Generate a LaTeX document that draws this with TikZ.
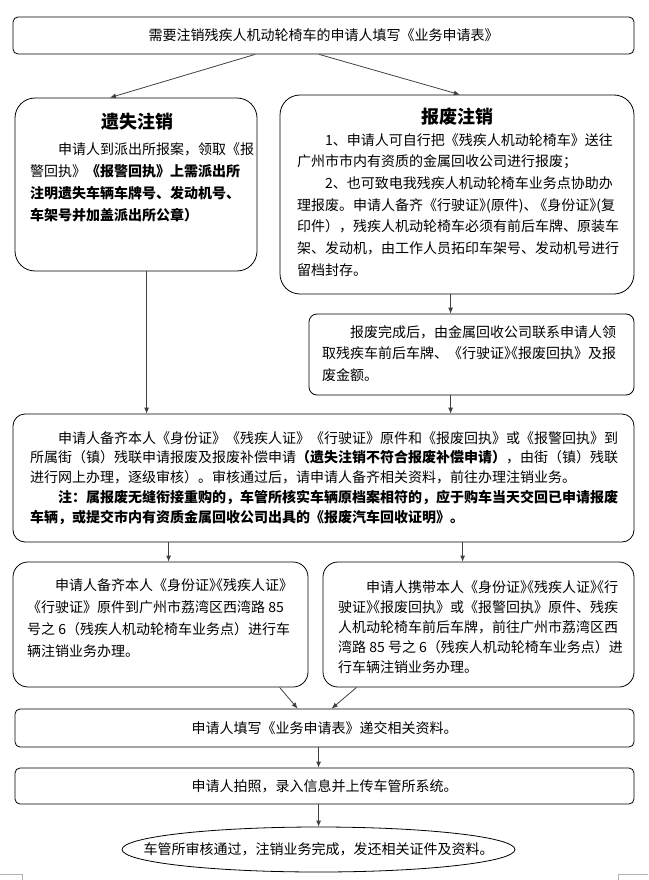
\documentclass[tikz,border=0pt]{standalone}
\usepackage{fontspec}
\setmainfont{Noto Sans CJK SC}
\usetikzlibrary{arrows.meta,shapes.geometric,calc}
\newcommand{\jn}{\kern-1em}
\begin{document}
\begin{tikzpicture}[x=1pt,y=-1pt,font=\fontsize{14}{22}\selectfont,
  box/.style={draw,line width=.8pt,inner sep=0pt,rounded corners=#1},
  box/.default=5pt,
  txt/.style={anchor=north west,inner sep=0pt,align=left},
  head/.style={font=\fontsize{18}{20}\selectfont\bfseries},
  arr/.style={draw=black!75,line width=.8pt,-{Latex[length=6pt,width=5pt]}}]
\useasboundingbox (0,0) rectangle (648,880);
\node[box,minimum width=621pt,minimum height=37pt] (form) at (323.5,35.5) {需要注销残疾人机动轮椅车的申请人填写《业务申请表》};
% two ways to cancel
\node[box=20pt,minimum width=242pt,minimum height=173pt] (lost) at (136,184.5) {};
\node[head] (lost-h) at (137,122) {遗失注销};
\node[txt,font=\fontsize{14}{22.3}\selectfont] (lost-t) at (30,142) {\hspace*{2em}申请人到派出所报案，领取《报\\
警回执》\textbf{《报警回执》上需派出所}\\
\textbf{注明遗失车辆车牌号、发动机号、}\\
\textbf{车架号并加盖派出所公章）}};
\node[box=20pt,minimum width=354pt,minimum height=199pt] (waste) at (457,194.5) {};
\node[head] (waste-h) at (457,117) {报废注销};
\node[txt,font=\fontsize{14}{21.7}\selectfont] (waste-t) at (297,133) {\hspace*{2em}1、申请人可自行把《残疾人机动轮椅车》送往\\
广州市市内有资质的金属回收公司进行报废；\\
\hspace*{2em}2、也可致电我残疾人机动轮椅车业务点协助办\\
理报废。申请人备齐《行驶证》\kern-.5em(原件)、\kern-.3em《身份证》\kern-.5em(复\\
印件），残疾人机动轮椅车必须有前后车牌、原装车\\
架、发动机，由工作人员拓印车架号、发动机号进行\\
留档封存。};
\node[box=8pt,minimum width=325pt,minimum height=81pt] (done) at (471.5,354.5) {};
\node[txt,font=\fontsize{14}{21.5}\selectfont] (done-t) at (322,325) {\hspace*{2em}报废完成后，由金属回收公司联系申请人领\\
取残疾车前后车牌、《行驶证》\jn《报废回执》及报\\
废金额。};
% common steps
\node[box=12pt,minimum width=621pt,minimum height=128pt] (apply) at (323.5,478) {};
\node[txt,font=\fontsize{14}{19.8}\selectfont] (apply-t) at (30,431) {\hspace*{2em}申请人备齐本人《身份证》《残疾人证》《行驶证》原件和《报废回执》或《报警回执》到\\
所属街（镇）残联申请报废及报废补偿申请\textbf{（遗失注销不符合报废补偿申请）}，由街（镇）残联\\
进行网上办理，逐级审核）。审核通过后，请申请人备齐相关资料，前往办理注销业务。\\
\hspace*{2em}\textbf{注：属报废无缝衔接重购的，车管所核实车辆原档案相符的，应于购车当天交回已申请报废}\\
\textbf{车辆，或提交市内有资质金属回收公司出具的《报废汽车回收证明》。}};
\node[box=15pt,minimum width=295pt,minimum height=125pt] (lowL) at (160.5,624.5) {};
\node[txt] (lowL-t) at (27,578) {\hspace*{2em}申请人备齐本人《身份证》\jn《残疾人证》\\
《行驶证》原件到广州市荔湾区西湾路 85\\
号之 6（残疾人机动轮椅车业务点）进行车\\
辆注销业务办理。};
\node[box=15pt,minimum width=311pt,minimum height=125pt] (lowR) at (478.5,624.5) {};
\node[txt,font=\fontsize{14}{20}\selectfont] (lowR-t) at (338,580) {\hspace*{2em}申请人携带本人《身份证》\jn《残疾人证》\jn《行\\
驶证》\jn《报废回执》或《报警回执》原件、残疾\\
人机动轮椅车前后车牌，前往广州市荔湾区西\\
湾路 85 号之 6（残疾人机动轮椅车业务点）进\\
行车辆注销业务办理。};
\node[box,minimum width=619pt,minimum height=38pt] (fill) at (324.5,728) {申请人填写《业务申请表》递交相关资料。};
\node[box,minimum width=619pt,minimum height=36pt] (photo) at (324.5,786) {申请人拍照，录入信息并上传车管所系统。};
\node[draw,ellipse,line width=.8pt,inner sep=0pt,minimum width=393pt,minimum height=45pt] (finish) at (318.5,849.5) {};
\node (finish-t) at (finish.center) {车管所审核通过，注销业务完成，发还相关证件及资料。};
% connectors
\draw[arr] ($(form.south west)!.390!(form.south east)$) -- ($(lost.north west)!.393!(lost.north east)$);
\draw[arr] ($(form.south west)!.493!(form.south east)$) -- ($(waste.north west)!.508!(waste.north east)$);
\draw[arr] ($(lost.south west)+(132,0)$) coordinate (l1) -- (l1 |- apply.north);
\draw[arr] ($(waste.south west)+(171,0)$) coordinate (r1) -- (r1 |- done.north);
\draw[arr] (done.south -| r1) -- (r1 |- apply.north);
\draw[arr] ($(apply.south west)+(156,0)$) coordinate (l2) -- (l2 |- lowL.north);
\draw[arr] ($(apply.south west)+(450,0)$) coordinate (r2) -- (r2 |- lowR.north);
\draw[arr] ($(lowL.south west)+(267,0)$) -- ($(fill.north west)+(283,0)$);
\draw[arr] ($(lowR.south west)+(34,0)$) -- ($(fill.north west)+(317,0)$);
\draw[arr] ($(fill.south west)+(304,0)$) coordinate (m1) -- (m1 |- photo.north);
\draw[arr] (photo.south -| m1) -- (m1 |- finish.north);
% page corner marks
\draw[black!30] (0,874) -- (22,874) -- (22,880);
\draw[black!30] (648,874) -- (618,874) -- (618,880);
\end{tikzpicture}
\end{document}
